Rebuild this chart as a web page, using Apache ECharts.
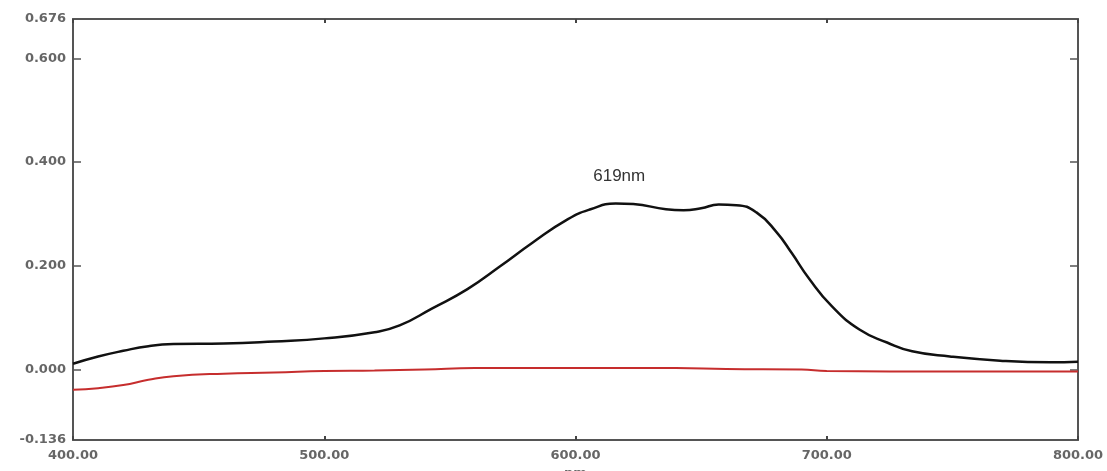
<!DOCTYPE html>
<html>
<head>
<meta charset="utf-8">
<script src="https://cdn.jsdelivr.net/npm/echarts@6/dist/echarts.min.js"></script>
<style>
html, body { margin: 0; padding: 0; background: #fff; }
#chart { width: 1107px; height: 471px; }
</style>
</head>
<body>
<div id="chart"></div>
<script>
// 波长 (nm) 与吸光度
var blackWl = [400, 410, 420, 430, 440, 460, 480, 500, 520, 530, 543, 557, 570, 583, 597, 606, 616, 623, 636, 643, 650, 657, 664, 672, 680, 686, 693, 702, 713, 724, 734, 749, 769, 789, 800];
var blackAbs = [0.011, 0.025, 0.036, 0.045, 0.049, 0.050, 0.054, 0.060, 0.072, 0.085, 0.118, 0.155, 0.199, 0.245, 0.290, 0.309, 0.320, 0.319, 0.309, 0.307, 0.311, 0.318, 0.317, 0.303, 0.265, 0.225, 0.175, 0.122, 0.077, 0.052, 0.035, 0.025, 0.017, 0.014, 0.015];
var redWl = [400, 410, 420, 430, 440, 460, 480, 500, 520, 540, 560, 600, 640, 660, 690, 700, 750, 800];
var redAbs = [-0.039, -0.036, -0.030, -0.020, -0.013, -0.008, -0.006, -0.003, -0.002, 0.000, 0.003, 0.003, 0.003, 0.001, 0.000, -0.003, -0.004, -0.004];
var yTicks = [-0.136, 0, 0.2, 0.4, 0.6, 0.676];
var peakLabel = '619nm';
var peakPoint = [619, 0.320];

function pairs(xs, ys) {
	return xs.map(function(x, i) { return [x, ys[i]]; });
}

var myChart = echarts.init(document.getElementById('chart'));
var labelStyle = {
	color : '#666',
	fontFamily : 'DejaVu Sans',
	fontWeight : 'bold',
	fontSize : 13
};
var option = {
	animation : false,
	grid : {
		left : 73,
		right : 29,
		top : 19,
		bottom : 31,
		outerBoundsMode : 'none',
		containLabel : false
	},
	xAxis : [ {
		type : 'value',
		min : 400,
		max : 800,
		interval : 100,
		name : 'nm',
		nameLocation : 'middle',
		nameGap : 27,
		nameTextStyle : labelStyle,
		axisLine : { onZero : false, lineStyle : { color : '#555', width : 2 } },
		axisTick : { inside : true, length : 4, lineStyle : { color : '#444', width : 2 } },
		axisLabel : Object.assign({
			margin : 9,
			formatter : function(v) { return v.toFixed(2); }
		}, labelStyle),
		splitLine : { show : false }
	}, {
		type : 'value',
		position : 'top',
		min : 400,
		max : 800,
		interval : 100,
		axisLine : { onZero : false, lineStyle : { color : '#555', width : 2 } },
		axisTick : { inside : true, length : 4, lineStyle : { color : '#444', width : 2 } },
		axisLabel : { show : false },
		splitLine : { show : false }
	} ],
	yAxis : [ {
		type : 'value',
		min : -0.136,
		max : 0.676,
		axisLine : { show : true, onZero : false, lineStyle : { color : '#555', width : 2 } },
		axisTick : { show : true, inside : true, length : 8, customValues : yTicks, lineStyle : { color : '#555', width : 1.5 } },
		axisLabel : Object.assign({
			margin : 7,
			customValues : yTicks,
			formatter : function(v) { return v.toFixed(3); }
		}, labelStyle),
		splitLine : { show : false }
	}, {
		type : 'value',
		position : 'right',
		min : -0.136,
		max : 0.676,
		axisLine : { show : true, onZero : false, lineStyle : { color : '#555', width : 2 } },
		axisTick : { show : true, inside : true, length : 8, customValues : yTicks, lineStyle : { color : '#555', width : 1.5 } },
		axisLabel : { show : false },
		splitLine : { show : false }
	} ],
	series : [ {
		type : 'line',
		data : pairs(blackWl, blackAbs),
		smooth : 0.5,
		showSymbol : false,
		lineStyle : { color : '#111', width : 2.5 },
		markPoint : {
			symbol : 'circle',
			symbolSize : 0,
			data : [ { coord : peakPoint } ],
			label : {
				show : true,
				formatter : peakLabel,
				offset : [ -4, -27 ],
				color : '#333',
				fontFamily : 'Liberation Sans',
				fontSize : 17
			}
		}
	}, {
		type : 'line',
		data : pairs(redWl, redAbs),
		smooth : 0.5,
		showSymbol : false,
		lineStyle : { color : '#c62d2d', width : 2 }
	} ]
};
myChart.setOption(option);
</script>
</body>
</html>
